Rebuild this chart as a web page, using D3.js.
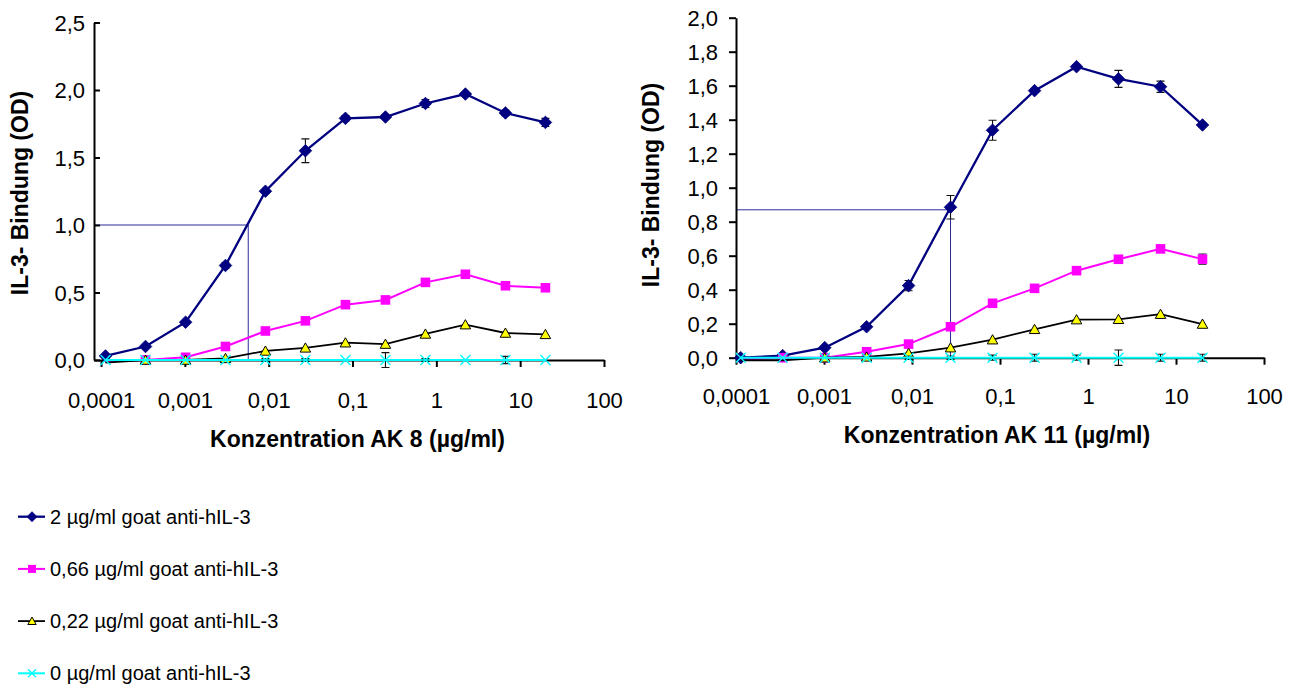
<!DOCTYPE html>
<html><head><meta charset="utf-8">
<script src="https://cdn.jsdelivr.net/npm/d3@7"></script>
<style>
body{margin:0;background:#fff}
svg{display:block}
text{font-family:Arial,"Liberation Sans",sans-serif;fill:#000}
</style>
</head><body>
<svg id="c" width="1298" height="686"></svg>
<script>
// ---------- DATA ----------
const concentrations = [0.000113, 0.000339, 0.00102, 0.00305, 0.00914, 0.0274, 0.0823, 0.247, 0.741, 2.22, 6.67, 20];
const seriesNames = ["2 µg/ml goat anti-hIL-3", "0,66 µg/ml goat anti-hIL-3", "0,22 µg/ml goat anti-hIL-3", "0 µg/ml goat anti-hIL-3"];

// AK 8
const ak8_s2    = [0.03, 0.10, 0.28, 0.70, 1.25, 1.55, 1.79, 1.80, 1.90, 1.97, 1.83, 1.76];
const ak8_s2Err = [0, 0, 0.01, 0.02, 0.01, 0.088, 0.02, 0.01, 0.03, 0.01, 0.02, 0.03];
const ak8_s066    = [-0.01, 0.0, 0.02, 0.10, 0.215, 0.29, 0.41, 0.445, 0.575, 0.635, 0.55, 0.535];
const ak8_s066Err = [0, 0, 0, 0, 0, 0, 0, 0, 0, 0, 0, 0.01];
const ak8_s022    = [-0.02, 0.0, 0.0, 0.012, 0.067, 0.09, 0.128, 0.118, 0.193, 0.262, 0.20, 0.19];
const ak8_s022Err = [0, 0, 0, 0, 0, 0, 0, 0, 0, 0, 0, 0];
const ak8_s0    = [0, 0, 0, 0, 0, 0, 0, 0, 0, 0, 0, 0];
const ak8_s0Err = [0, 0, 0, 0, 0.01, 0.01, 0, 0.055, 0.01, 0, 0.027, 0];

// AK 11
const ak11_s2    = [0.0, 0.012, 0.059, 0.182, 0.424, 0.885, 1.338, 1.571, 1.712, 1.64, 1.594, 1.369];
const ak11_s2Err = [0, 0, 0.01, 0.01, 0.03, 0.069, 0.059, 0.01, 0.01, 0.05, 0.033, 0.01];
const ak11_s066    = [-0.01, 0.0, 0.0, 0.035, 0.08, 0.182, 0.32, 0.408, 0.512, 0.579, 0.64, 0.58];
const ak11_s066Err = [0, 0, 0, 0, 0, 0, 0, 0, 0, 0, 0, 0.03];
const ak11_s022    = [-0.015, -0.015, 0.0, 0.005, 0.026, 0.059, 0.106, 0.167, 0.224, 0.226, 0.256, 0.198];
const ak11_s022Err = [0, 0, 0, 0, 0, 0, 0, 0, 0, 0, 0, 0];
const ak11_s0    = [0, 0, 0, 0, 0, 0, 0, 0, 0, 0, 0, 0];
const ak11_s0Err = [0, 0, 0, 0, 0.01, 0.01, 0.015, 0.02, 0.015, 0.045, 0.02, 0.02];

// axes
const xTickValues = [0.0001, 0.001, 0.01, 0.1, 1, 10, 100];
const xTickLabels = ["0,0001", "0,001", "0,01", "0,1", "1", "10", "100"];
const ak8XMin = 0.0000824, ak11XMin = 0.0001, xMax = 100;
const ak8YTicks = [0, 0.5, 1.0, 1.5, 2.0, 2.5];
const ak8YTickLabels = ["0,0", "0,5", "1,0", "1,5", "2,0", "2,5"];
const ak11YTicks = [0, 0.2, 0.4, 0.6, 0.8, 1.0, 1.2, 1.4, 1.6, 1.8, 2.0];
const ak11YTickLabels = ["0,0", "0,2", "0,4", "0,6", "0,8", "1,0", "1,2", "1,4", "1,6", "1,8", "2,0"];
// reference (half-max) guide lines
const ak8Ref = [0.0057, 1.0];
const ak11Ref = [0.0274, 0.87];

const ak8Title = "Konzentration AK 8 (µg/ml)";
const ak11Title = "Konzentration AK 11 (µg/ml)";
const yTitle = "IL-3- Bindung (OD)";

// ---------- STYLES ----------
const styles = [
  {color:"#000080", width:2.3, marker:"diamond"},
  {color:"#ff00ff", width:2,   marker:"square"},
  {color:"#000000", width:1.8, marker:"triangle"},
  {color:"#00ffff", width:2,   marker:"x"}
];

function markerPath(type, s) {
  if (type === "diamond") return `M0,${-s}L${s},0L0,${s}L${-s},0Z`;
  if (type === "square") return `M${-s},${-s}H${s}V${s}H${-s}Z`;
  if (type === "triangle") return `M0,${-s*1.0}L${s*1.05},${s*0.85}L${-s*1.05},${s*0.85}Z`;
  return `M${-s},${-s}L${s},${s}M${-s},${s}L${s},${-s}`;
}
function drawMarker(sel, st, size) {
  const p = sel.append("path").attr("d", markerPath(st.marker, size));
  if (st.marker === "diamond") p.attr("fill", st.color).attr("stroke", st.color).attr("stroke-width", 0.8);
  else if (st.marker === "square") p.attr("fill", st.color);
  else if (st.marker === "triangle") p.attr("fill", "#ffff00").attr("stroke", "#000").attr("stroke-width", 1);
  else p.attr("fill", "none").attr("stroke", st.color).attr("stroke-width", 1.3);
}

const svg = d3.select("#c");

function chart(o) {
  const x = d3.scaleLog().domain([o.xMin, xMax]).range(o.xRange);
  const y = d3.scaleLinear().domain([0, o.yTicks[o.yTicks.length-1]]).range(o.yRange);
  const g = svg.append("g");

  // reference lines
  g.append("path")
    .attr("d", `M${x(o.xMin)},${y(o.ref[1])}H${x(o.ref[0])}V${y(0)}`)
    .attr("fill", "none").attr("stroke", "#2b2b9a").attr("stroke-width", 1);

  // x axis
  const xa = d3.axisBottom(x).tickValues(xTickValues)
    .tickFormat((d, i) => xTickLabels[i]).tickSizeInner(7).tickSizeOuter(0).tickPadding(o.xPad);
  const gx = g.append("g").attr("transform", `translate(0,${y(0)})`).call(xa);
  gx.select(".domain").attr("stroke", "#000").attr("stroke-width", 2);
  gx.selectAll(".tick line").attr("stroke", "#000").attr("stroke-width", 2);
  gx.selectAll(".tick text").attr("font-size", 22).attr("font-family", null);

  // y axis
  const ya = d3.axisLeft(y).tickValues(o.yTicks)
    .tickFormat((d, i) => o.yTickLabels[i]).tickSizeInner(o.yTick).tickSizeOuter(0).tickPadding(o.yPad);
  const gy = g.append("g").attr("transform", `translate(${x(o.xMin)},0)`).call(ya);
  gy.select(".domain").attr("stroke", "#000").attr("stroke-width", 2);
  gy.selectAll(".tick line").attr("stroke", "#000").attr("stroke-width", 2);
  gy.selectAll(".tick text").attr("font-size", 22).attr("font-family", null).attr("dy", "0.36em");
  g.selectAll(".tick text").style("fill", "#000");

  // series
  o.series.forEach((s, si) => {
    const st = styles[si];
    const pts = concentrations.map((c, i) => ({c, v: s.v[i], e: s.e[i]}));
    g.append("path").datum(pts)
      .attr("d", d3.line().x(d => x(d.c)).y(d => y(d.v)))
      .attr("fill", "none").attr("stroke", st.color).attr("stroke-width", st.width);
    // error bars
    g.append("g").selectAll("path").data(pts.filter(d => d.e > 0)).join("path")
      .attr("d", d => {
        const cx = x(d.c), y1 = y(d.v + d.e), y2 = y(d.v - d.e);
        return `M${cx},${y1}V${y2}M${cx-4},${y1}H${cx+4}M${cx-4},${y2}H${cx+4}`;
      })
      .attr("fill", "none").attr("stroke", "#111").attr("stroke-width", 1.1);
    // markers (points below the plot area's 0 floor are not marked)
    const mg = g.append("g").selectAll("g").data(pts.filter(d => d.v >= 0)).join("g")
      .attr("transform", d => `translate(${x(d.c)},${y(d.v)})`);
    mg.each(function() { drawMarker(d3.select(this), st, st.marker === "diamond" ? 6.3 : st.marker === "square" ? 4.8 : 5); });
  });

  // titles
  g.append("text").attr("x", o.xTitlePos[0]).attr("y", o.xTitlePos[1])
    .attr("text-anchor", "middle").attr("font-size", 23).attr("font-weight", "bold").text(o.xTitle);
  g.append("text").attr("transform", `translate(${o.yTitlePos[0]},${o.yTitlePos[1]}) rotate(-90)`)
    .attr("text-anchor", "middle").attr("font-size", 23).attr("font-weight", "bold").text(yTitle);
}

chart({
  xMin: ak8XMin, xRange: [94, 604], yRange: [360, 22.5],
  yTicks: ak8YTicks, yTickLabels: ak8YTickLabels, yTick: -6, yPad: 9, xPad: 25,
  ref: ak8Ref,
  series: [{v: ak8_s2, e: ak8_s2Err}, {v: ak8_s066, e: ak8_s066Err}, {v: ak8_s022, e: ak8_s022Err}, {v: ak8_s0, e: ak8_s0Err}],
  xTitle: ak8Title, xTitlePos: [357.5, 446.7], yTitlePos: [28.3, 193]
});
chart({
  xMin: ak11XMin, xRange: [736, 1264], yRange: [357.7, 17.7],
  yTicks: ak11YTicks, yTickLabels: ak11YTickLabels, yTick: 7, yPad: 11, xPad: 24,
  ref: ak11Ref,
  series: [{v: ak11_s2, e: ak11_s2Err}, {v: ak11_s066, e: ak11_s066Err}, {v: ak11_s022, e: ak11_s022Err}, {v: ak11_s0, e: ak11_s0Err}],
  xTitle: ak11Title, xTitlePos: [997, 443.3], yTitlePos: [659.3, 185]
});

// legend
const lg = svg.append("g");
seriesNames.forEach((name, i) => {
  const st = styles[i];
  const ry = 516.7 + i * 52.2;
  lg.append("line").attr("x1", 18).attr("x2", 45).attr("y1", ry).attr("y2", ry)
    .attr("stroke", st.color).attr("stroke-width", st.width);
  const m = lg.append("g").attr("transform", `translate(32,${ry})`);
  drawMarker(m, st, st.marker === "diamond" ? 5 : 4);
  lg.append("text").attr("x", 50).attr("y", ry + 7).attr("font-size", 20).text(name);
});
</script>
</body></html>
